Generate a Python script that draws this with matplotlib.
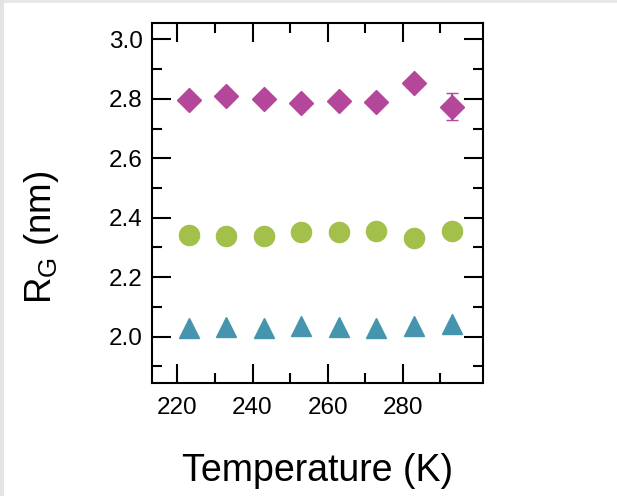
import matplotlib
matplotlib.use("Agg")
import matplotlib.pyplot as plt
from matplotlib.patches import Rectangle

# temperatures (K) and radius of gyration (nm) for three samples
temperature = [223, 233, 243, 253, 263, 273, 283, 293]
rg_diamond = [2.797, 2.808, 2.800, 2.786, 2.793, 2.789, 2.853, 2.774]
rg_diamond_err = [0, 0, 0, 0, 0, 0, 0, 0.046]
rg_circle = [2.343, 2.339, 2.337, 2.353, 2.353, 2.356, 2.331, 2.354]
rg_triangle = [2.028, 2.033, 2.030, 2.035, 2.034, 2.028, 2.035, 2.042]

xticks_major = [220, 240, 260, 280]
xticks_minor = [230, 250, 270, 290]

plt.rcParams["font.family"] = ["Liberation Sans", "DejaVu Sans"]
plt.rcParams["mathtext.fontset"] = "custom"
plt.rcParams["mathtext.rm"] = "Liberation Sans"
plt.rcParams["mathtext.it"] = "Liberation Sans:italic"

fig = plt.figure(figsize=(6.17, 4.96), dpi=100)
ax = fig.add_axes([0.2468, 0.2284, 0.5368, 0.7246])

# faint screenshot shadow along top and left edges
fig.patches.append(Rectangle((0, 0.994), 1, 0.006, transform=fig.transFigure,
                             color="#e8e8e8", lw=0))
fig.patches.append(Rectangle((0, 0), 0.007, 1, transform=fig.transFigure,
                             color="#e4e4e4", lw=0))

ax.errorbar(temperature, rg_diamond, yerr=rg_diamond_err, fmt="D", ms=12.5,
            color="#b5479a", mec="#b5479a", mew=1, ecolor="#b5479a",
            elinewidth=1.5, capsize=4, capthick=1.5, ls="none")
ax.plot(temperature, rg_circle, "o", ms=15.5, color="#a2c04a", mew=0, ls="none")
ax.plot(temperature, rg_triangle, "^", ms=15, color="#4595ae", mec="#4595ae",
        mew=1, ls="none")

ax.set_xlim(213.3, 301.5)
ax.set_ylim(1.845, 3.054)
ax.set_xticks(xticks_major)
ax.set_xticks(xticks_minor, minor=True)
ax.set_yticks([2.0, 2.2, 2.4, 2.6, 2.8, 3.0])
ax.set_yticks([1.9, 2.1, 2.3, 2.5, 2.7, 2.9], minor=True)
ax.yaxis.set_major_formatter(matplotlib.ticker.FormatStrFormatter("%.1f"))

for s in ax.spines.values():
    s.set_linewidth(1.5)
ax.tick_params(which="both", direction="in", top=True, right=True, width=1.5)
ax.tick_params(which="major", length=13.5, labelsize=17.5)
ax.tick_params(which="minor", length=7)
ax.tick_params(axis="y", pad=7)
ax.tick_params(axis="x", pad=10)

ax.set_xlabel("Temperature (K)", fontsize=27)
ax.set_ylabel(r"R$_\mathrm{G}$ (nm)", fontsize=26.5)
ax.xaxis.set_label_coords(0.5, -0.1945)
ax.yaxis.set_label_coords(-0.275, 0.404)

fig.savefig("out.png", dpi=100)
